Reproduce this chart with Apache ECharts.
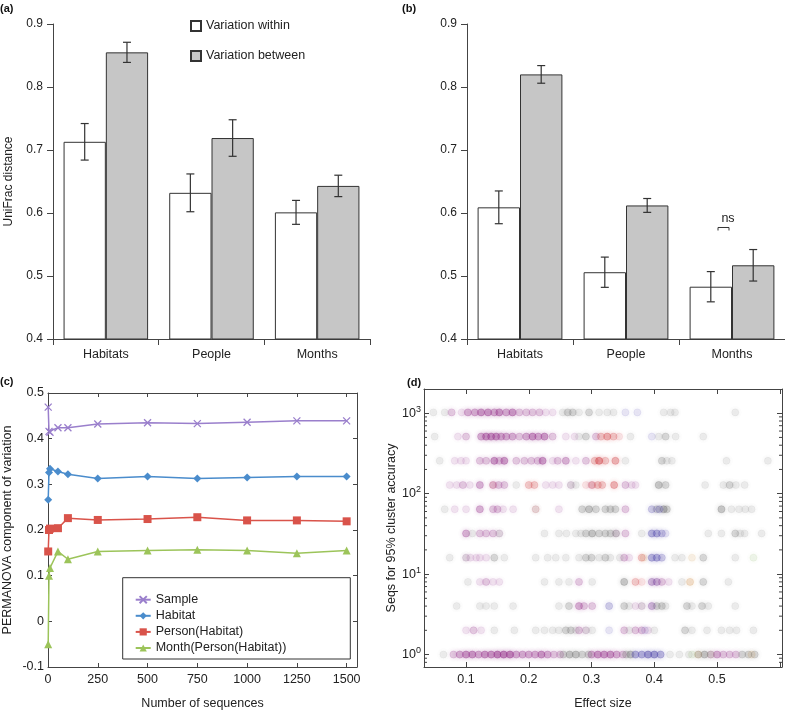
<!DOCTYPE html>
<html><head><meta charset="utf-8">
<script src="https://cdn.jsdelivr.net/npm/echarts@6/dist/echarts.min.js"></script>
<style>html,body{margin:0;padding:0;background:#fff}#c{width:785px;height:711px}</style>
</head><body><div id="c"></div><script>
// ---------- panels (a) and (b): UniFrac distances ----------
const barCategories = ['Habitats', 'People', 'Months'];
const aWithinMean  = [0.713, 0.632, 0.601];
const aWithinErr   = [0.029, 0.030, 0.019];
const aBetweenMean = [0.855, 0.719, 0.643];
const aBetweenErr  = [0.016, 0.029, 0.017];
const bWithinMean  = [0.609, 0.506, 0.483];
const bWithinErr   = [0.026, 0.024, 0.024];
const bBetweenMean = [0.820, 0.612, 0.517];
const bBetweenErr  = [0.014, 0.011, 0.025];
const nsMark = [[2, 0.577]];

// ---------- panel (c): PERMANOVA components ----------
const seqCounts   = [1, 5, 10, 50, 100, 250, 500, 750, 1000, 1250, 1500];
const sampleComp  = [0.469, 0.416, 0.414, 0.424, 0.424, 0.432, 0.435, 0.433, 0.436, 0.439, 0.439];
const habitatComp = [0.266, 0.326, 0.334, 0.328, 0.322, 0.313, 0.317, 0.313, 0.315, 0.317, 0.317];
const personComp  = [0.153, 0.200, 0.203, 0.204, 0.226, 0.222, 0.224, 0.228, 0.221, 0.221, 0.219];
const monthComp   = [-0.050, 0.100, 0.117, 0.153, 0.136, 0.153, 0.155, 0.157, 0.155, 0.149, 0.155];

// ---------- panel (d): effect size vs sequences needed  [effect, seqs, overlapCount] ----------
const purplePts = [
 [0.077,1024,2],[0.093,1024,1],[0.103,1024,3],[0.114,1024,3],[0.124,1024,4],[0.135,1024,4],[0.145,1024,3],[0.153,1024,4],[0.164,1024,3],[0.174,1024,4],[0.185,1024,2],[0.196,1024,2],[0.206,1024,2],[0.217,1024,2],[0.227,1024,1],[0.238,1024,1],
 [0.087,512,1],[0.100,512,2],[0.124,512,3],[0.132,512,4],[0.140,512,4],[0.148,512,4],[0.156,512,3],[0.164,512,3],[0.174,512,3],[0.185,512,2],[0.196,512,3],[0.206,512,4],[0.215,512,3],[0.225,512,4],[0.238,512,2],[0.259,512,1],[0.273,512,1],[0.307,512,2],
 [0.082,256,1],[0.092,256,1],[0.100,256,1],[0.122,256,2],[0.132,256,2],[0.145,256,4],[0.153,256,2],[0.161,256,4],[0.180,256,2],[0.193,256,2],[0.204,256,2],[0.214,256,2],[0.222,256,4],[0.238,256,1],[0.246,256,2],[0.259,256,3],[0.275,256,1],[0.291,256,2],
 [0.074,128,1],[0.085,128,1],[0.095,128,2],[0.106,128,1],[0.122,128,3],[0.143,128,2],[0.152,128,2],[0.161,128,2],[0.227,128,1],[0.238,128,1],[0.248,128,1],[0.267,128,1],[0.300,128,1],[0.354,128,2],[0.364,128,1],[0.370,128,1],
 [0.082,64,1],[0.100,64,1],[0.122,64,3],[0.143,64,2],[0.150,64,2],[0.159,64,1],[0.175,64,1],[0.248,64,1],[0.354,64,2],
 [0.100,32,3],[0.122,32,2],[0.132,32,2],[0.143,32,2],[0.153,32,1],[0.339,32,1],[0.354,32,2],
 [0.100,16,1],[0.107,16,1],[0.116,16,1],[0.122,16,1],[0.132,16,1],[0.352,16,2],[0.360,16,1],
 [0.122,8,1],[0.132,8,2],[0.143,8,1],[0.153,8,1],[0.280,8,2],[0.396,8,2],[0.404,8,2],[0.412,8,2],[0.423,8,1],
 [0.280,4,3],[0.288,4,2],[0.301,4,2],[0.370,4,1],[0.380,4,1],[0.396,4,2],
 [0.100,2,1],[0.112,2,2],[0.124,2,1],[0.280,2,2],[0.291,2,1],[0.352,2,2],[0.370,2,2],[0.380,2,2],[0.390,2,1],
 [0.080,1,2],[0.090,1,3],[0.100,1,4],[0.110,1,4],[0.120,1,3],[0.130,1,4],[0.140,1,4],[0.150,1,5],[0.160,1,5],[0.170,1,5],[0.180,1,3],[0.190,1,3],[0.200,1,3],[0.210,1,3],[0.220,1,4],[0.230,1,3],[0.240,1,2],[0.250,1,2],[0.300,1,3],[0.310,1,4],[0.320,1,4],[0.330,1,4],[0.340,1,3],[0.350,1,2],[0.490,1,2],[0.500,1,3],[0.510,1,2],[0.520,1,2],[0.530,1,2]
];
const greyPts = [
 [0.048,1024,1],[0.066,1024,1],[0.254,1024,1],[0.262,1024,2],[0.270,1024,2],[0.280,1024,1],[0.296,1024,2],[0.312,1024,1],[0.325,1024,1],[0.335,1024,1],[0.415,1024,1],[0.426,1024,1],[0.433,1024,1],[0.529,1024,1],
 [0.050,512,1],[0.280,512,1],[0.291,512,2],[0.362,512,1],[0.407,512,1],[0.418,512,2],[0.434,512,1],[0.478,512,1],
 [0.058,256,1],[0.354,256,1],[0.412,256,2],[0.420,256,1],[0.428,256,1],[0.515,256,1],[0.581,256,1],
 [0.180,128,1],[0.267,128,1],[0.275,128,1],[0.407,128,3],[0.418,128,2],[0.481,128,1],[0.510,128,1],[0.520,128,2],[0.530,128,1],[0.544,128,1],
 [0.066,64,1],[0.211,64,1],[0.285,64,2],[0.296,64,3],[0.307,64,2],[0.322,64,2],[0.330,64,2],[0.338,64,2],[0.404,64,2],[0.415,64,3],[0.420,64,2],[0.507,64,3],[0.523,64,1],[0.535,64,1],[0.545,64,1],[0.555,64,1],
 [0.110,32,1],[0.153,32,1],[0.225,32,1],[0.248,32,1],[0.260,32,1],[0.275,32,1],[0.283,32,1],[0.291,32,2],[0.301,32,3],[0.312,32,2],[0.322,32,2],[0.330,32,2],[0.339,32,2],[0.380,32,1],[0.486,32,1],[0.507,32,1],[0.529,32,2],[0.537,32,1],[0.544,32,1],[0.571,32,1],
 [0.074,16,1],[0.100,16,1],[0.145,16,2],[0.161,16,1],[0.211,16,1],[0.230,16,1],[0.243,16,1],[0.259,16,1],[0.280,16,1],[0.291,16,2],[0.300,16,2],[0.312,16,1],[0.322,16,2],[0.330,16,1],[0.345,16,1],[0.433,16,1],[0.444,16,1],[0.478,16,2],[0.529,16,1],
 [0.103,8,1],[0.225,8,1],[0.248,8,1],[0.264,8,1],[0.301,8,1],[0.352,8,3],[0.444,8,1],[0.478,8,2],[0.518,8,1],
 [0.085,4,1],[0.122,4,1],[0.132,4,1],[0.145,4,1],[0.175,4,1],[0.248,4,1],[0.264,4,2],[0.352,4,2],[0.360,4,1],[0.380,4,1],[0.404,4,2],[0.412,4,2],[0.418,4,1],[0.452,4,2],[0.460,4,1],[0.476,4,2],[0.486,4,1],[0.529,4,1],
 [0.145,2,1],[0.177,2,1],[0.211,2,1],[0.225,2,1],[0.238,2,1],[0.248,2,1],[0.259,2,2],[0.267,2,2],[0.275,2,1],[0.291,2,1],[0.301,2,1],[0.360,2,1],[0.400,2,1],[0.449,2,2],[0.460,2,1],[0.484,2,1],[0.507,2,1],[0.520,2,1],[0.531,2,1],[0.558,2,1],
 [0.064,1,1],[0.255,1,2],[0.265,1,3],[0.275,1,3],[0.285,1,2],[0.295,1,2],[0.355,1,2],[0.362,1,3],[0.425,1,1],[0.440,1,1],[0.455,1,1],[0.470,1,2],[0.480,1,3],[0.540,1,2],[0.550,1,2],[0.560,1,2]
];
const redPts = [
 [0.315,512,2],[0.325,512,3],[0.335,512,2],[0.344,512,1],
 [0.305,256,2],[0.312,256,4],[0.322,256,2],[0.338,256,3],
 [0.143,128,1],[0.200,128,2],[0.209,128,2],[0.291,128,1],[0.301,128,2],[0.310,128,2],[0.317,128,2],[0.336,128,3],
 [0.211,64,1],[0.380,16,2],[0.370,8,2],[0.380,8,1]
];
const bluePts = [
 [0.354,1024,1],[0.373,1024,1],[0.396,512,1],
 [0.396,64,2],[0.408,64,2],
 [0.396,32,3],[0.404,32,3],[0.412,32,2],[0.418,32,1],
 [0.396,16,3],[0.404,16,3],[0.412,16,2],
 [0.396,8,1],[0.404,8,1],[0.328,4,2],[0.396,4,1],[0.328,2,1],[0.385,2,1],
 [0.370,1,3],[0.380,1,3],[0.390,1,4],[0.400,1,4],[0.410,1,3]
];
const orangePts = [[0.383,16,1],[0.460,16,1],[0.457,8,2],[0.470,1,1],[0.555,1,1]];
const greenPts  = [[0.558,16,1],[0.460,1,1],[0.490,1,1]];
const logMinorTicks = [0.8,0.9,2,3,4,5,6,7,8,9,20,30,40,50,60,70,80,90,200,300,400,500,600,700,800,900];

const FONT = 'Liberation Sans, Arial, Helvetica, sans-serif';
const TXT = '#222';
const AX = '#444';

function errData(mean, err) { return mean.map((m, i) => [i, m - err[i], m + err[i]]); }
function errSeries(xi, yi, mean, err, side) {
  return {
    type: 'custom', xAxisIndex: xi, yAxisIndex: yi, z: 5, silent: true,
    encode: { x: 0, y: [1, 2] }, data: errData(mean, err),
    renderItem: function (params, api) {
      const band = api.size([1, 0])[0];
      const off = side * band * 0.8 / 4;
      const lo = api.coord([api.value(0), api.value(1)]);
      const hi = api.coord([api.value(0), api.value(2)]);
      const x = lo[0] + off, cap = 4;
      const st = { stroke: '#333', lineWidth: 1.2 };
      return { type: 'group', children: [
        { type: 'line', shape: { x1: x, y1: lo[1], x2: x, y2: hi[1] }, style: st },
        { type: 'line', shape: { x1: x - cap, y1: lo[1], x2: x + cap, y2: lo[1] }, style: st },
        { type: 'line', shape: { x1: x - cap, y1: hi[1], x2: x + cap, y2: hi[1] }, style: st }
      ]};
    }
  };
}
function barSeries(name, xi, yi, data, fill) {
  return { name: name, type: 'bar', xAxisIndex: xi, yAxisIndex: yi, data: data,
    barGap: '0%', barCategoryGap: '20%',
    itemStyle: { color: fill, borderColor: '#333', borderWidth: 1 }, silent: true };
}
function catAxis(gi) {
  return { type: 'category', gridIndex: gi, data: barCategories,
    axisLine: { onZero: false, lineStyle: { color: AX, width: 1 } },
    axisTick: { show: true, length: 6, lineStyle: { color: AX } },
    axisLabel: { color: TXT, fontSize: 12.5, fontFamily: FONT, margin: 9 } };
}
function barValAxis(gi, name) {
  return { type: 'value', gridIndex: gi, min: 0.4, max: 0.9, interval: 0.1,
    name: name, nameLocation: 'middle', nameGap: 38,
    nameTextStyle: { color: TXT, fontSize: 12, fontFamily: FONT },
    splitLine: { show: false },
    axisLine: { show: true, onZero: false, lineStyle: { color: AX } },
    axisTick: { show: true, length: 6, lineStyle: { color: AX } },
    axisLabel: { color: TXT, fontSize: 12, fontFamily: FONT, margin: 10 } };
}
function scat(pts, rgb) {
  return { type: 'scatter', xAxisIndex: 4, yAxisIndex: 4, data: pts, symbol: 'circle', symbolSize: 7,
    silent: true, encode: { x: 0, y: 1 },
    itemStyle: { color: 'rgba(' + rgb + ',0.6)', borderColor: 'rgb(' + rgb + ')', borderWidth: 0.6,
      shadowBlur: 4, shadowColor: 'rgba(' + rgb + ',0.8)' } };
}
function lineSeries(name, vals, color, symbol, size, extra) {
  return Object.assign({ name: name, type: 'line', xAxisIndex: 2, yAxisIndex: 2,
    data: seqCounts.map((s, i) => [s, vals[i]]), symbol: symbol, symbolSize: size,
    lineStyle: { color: color, width: 1.5 }, itemStyle: { color: color }, silent: true }, extra || {});
}
function inTick(len) { return { show: true, inside: true, length: len, lineStyle: { color: AX } }; }
function axLine() { return { show: true, onZero: false, lineStyle: { color: AX } }; }

const series = [
  barSeries('Variation within', 0, 0, aWithinMean, '#ffffff'),
  barSeries('Variation between', 0, 0, aBetweenMean, '#c6c6c6'),
  errSeries(0, 0, aWithinMean, aWithinErr, -1),
  errSeries(0, 0, aBetweenMean, aBetweenErr, 1),
  barSeries('Variation within', 1, 1, bWithinMean, '#ffffff'),
  barSeries('Variation between', 1, 1, bBetweenMean, '#c6c6c6'),
  errSeries(1, 1, bWithinMean, bWithinErr, -1),
  errSeries(1, 1, bBetweenMean, bBetweenErr, 1),
  { type: 'custom', xAxisIndex: 1, yAxisIndex: 1, z: 6, silent: true, data: nsMark, encode: { x: 0, y: 1 },
    renderItem: function (params, api) {
      const p = api.coord([api.value(0), api.value(1)]);
      const st = { stroke: '#333', lineWidth: 1, fill: null };
      return { type: 'group', children: [
        { type: 'polyline', shape: { points: [[p[0] - 14, p[1] + 3], [p[0] - 14, p[1]], [p[0] - 3, p[1]], [p[0] - 3, p[1] + 3]] }, style: st },
        { type: 'text', x: p[0] - 4, y: p[1] - 9, style: { text: 'ns', fill: TXT, fontSize: 12.5, fontFamily: FONT, align: 'center', verticalAlign: 'middle' } }
      ]};
    } },
  lineSeries('Sample', sampleComp, '#9a7fcc', 'path://M0,0L10,10M10,0L0,10', 7,
    { itemStyle: { color: 'rgba(0,0,0,0)', borderColor: '#9a7fcc', borderWidth: 1.3 } }),
  lineSeries('Habitat', habitatComp, '#4a8ccc', 'diamond', 8),
  lineSeries('Person(Habitat)', personComp, '#d9534a', 'rect', 8),
  lineSeries('Month(Person(Habitat))', monthComp, '#9cc45a', 'triangle', 8),
  scat(purplePts, '150,50,140'),
  scat(greyPts, '105,105,105'),
  scat(redPts, '205,50,55'),
  scat(bluePts, '70,60,165'),
  scat(orangePts, '200,130,50'),
  scat(greenPts, '120,165,80'),
  { type: 'custom', xAxisIndex: 4, yAxisIndex: 4, silent: true, z: 3,
    data: logMinorTicks.map(v => [0.3, v]), encode: { x: 0, y: 1 },
    renderItem: function (params, api) {
      const cs = params.coordSys;
      const y = api.coord([api.value(0), api.value(1)])[1];
      const st = { stroke: AX, lineWidth: 1 };
      return { type: 'group', children: [
        { type: 'line', shape: { x1: cs.x, y1: y, x2: cs.x + 3, y2: y }, style: st },
        { type: 'line', shape: { x1: cs.x + cs.width - 3, y1: y, x2: cs.x + cs.width, y2: y }, style: st }
      ]};
    } }
];
const scatterIdx = [13, 14, 15, 16, 17, 18];

function logLabel(v) {
  const l = Math.log10(v), e = Math.round(l);
  if (Math.abs(l - e) > 1e-6) return '';
  return '10{s|' + e + '}';
}
function effLabel(v) {
  const r = Math.round(v * 10) / 10;
  if (Math.abs(v - r) > 1e-6 || r < 0.1 || r > 0.5) return '';
  return r.toFixed(1);
}

const option = {
  backgroundColor: '#fff',
  animation: false,
  textStyle: { fontFamily: FONT },
  grid: [
    { left: 53, top: 24, width: 317, height: 315 },
    { left: 467, top: 24, width: 318, height: 315 },
    { left: 48, top: 393, width: 309, height: 274 },
    { left: 424, top: 389, width: 360, height: 278 }
  ],
  xAxis: [
    catAxis(0),
    catAxis(1),
    { type: 'value', gridIndex: 2, min: 0, max: 1552, interval: 250,
      name: 'Number of sequences', nameLocation: 'middle', nameGap: 30,
      nameTextStyle: { color: TXT, fontSize: 12.5, fontFamily: FONT },
      splitLine: { show: false }, axisLine: axLine(), axisTick: inTick(4),
      axisLabel: { color: TXT, fontSize: 12.5, fontFamily: FONT, margin: 6,
        formatter: v => (v % 250 === 0 ? String(v) : '') } },
    { type: 'value', gridIndex: 2, position: 'top', min: 0, max: 1552, interval: 250,
      splitLine: { show: false }, axisLine: axLine(), axisTick: inTick(4), axisLabel: { show: false } },
    { type: 'value', gridIndex: 3, min: 0.033, max: 0.6035, splitNumber: 6,
      name: 'Effect size', nameLocation: 'middle', nameGap: 30,
      nameTextStyle: { color: TXT, fontSize: 12.5, fontFamily: FONT },
      splitLine: { show: false }, axisLine: axLine(), axisTick: inTick(5),
      axisLabel: { color: TXT, fontSize: 12.5, fontFamily: FONT, margin: 6, formatter: effLabel, hideOverlap: false } },
    { type: 'value', gridIndex: 3, position: 'top', min: 0.033, max: 0.6035, splitNumber: 6,
      splitLine: { show: false }, axisLine: axLine(), axisTick: inTick(5), axisLabel: { show: false } }
  ],
  yAxis: [
    barValAxis(0, 'UniFrac distance'),
    barValAxis(1, ''),
    { type: 'value', gridIndex: 2, min: -0.1, max: 0.5, interval: 0.1,
      name: 'PERMANOVA component of variation', nameLocation: 'middle', nameGap: 34,
      nameTextStyle: { color: TXT, fontSize: 12.5, fontFamily: FONT },
      splitLine: { show: false }, axisLine: axLine(), axisTick: inTick(4),
      axisLabel: { color: TXT, fontSize: 12.5, fontFamily: FONT, margin: 4 } },
    { type: 'value', gridIndex: 2, position: 'right', min: -0.1, max: 0.5, interval: 0.1,
      splitLine: { show: false }, axisLine: axLine(), axisTick: inTick(4), axisLabel: { show: false } },
    { type: 'log', logBase: 10, gridIndex: 3, min: 0.7, max: 2000,
      name: 'Seqs for 95% cluster accuracy', nameLocation: 'middle', nameGap: 19,
      nameTextStyle: { color: TXT, fontSize: 12.5, fontFamily: FONT },
      splitLine: { show: false }, axisLine: axLine(), axisTick: inTick(5),
      axisLabel: { color: TXT, fontSize: 12.5, fontFamily: FONT, margin: 3, formatter: logLabel,
        rich: { s: { fontSize: 9, fontFamily: FONT, color: TXT, padding: [0, 0, 8, 0] } } } },
    { type: 'log', logBase: 10, gridIndex: 3, position: 'right', min: 0.7, max: 2000,
      splitLine: { show: false }, axisLine: axLine(), axisTick: inTick(5), axisLabel: { show: false } }
  ],
  legend: [
    { data: ['Variation within', 'Variation between'], orient: 'vertical', left: 190, top: 19,
      padding: 0, itemGap: 16, itemWidth: 10, itemHeight: 10, icon: 'rect', selectedMode: false,
      textStyle: { color: TXT, fontSize: 12.5, fontFamily: FONT, lineHeight: 14 } },
    { data: ['Sample', 'Habitat', 'Person(Habitat)', 'Month(Person(Habitat))'], orient: 'vertical',
      left: 122.7, top: 577.7, padding: [15, 64, 4, 12], itemGap: 2.1, itemWidth: 15, itemHeight: 9,
      borderColor: '#333', borderWidth: 1, backgroundColor: '#fff', selectedMode: false,
      textStyle: { color: TXT, fontSize: 12.5, fontFamily: FONT, lineHeight: 14 } }
  ],
  visualMap: [
    { type: 'continuous', show: false, dimension: 2, min: 1, max: 5, seriesIndex: scatterIdx,
      inRange: { opacity: [0.14, 0.72] } }
  ],
  graphic: [
    { type: 'text', x: 0, y: 3, style: { text: '(a)', fill: '#111', fontSize: 11, fontWeight: 'bold', fontFamily: FONT } },
    { type: 'text', x: 402, y: 3, style: { text: '(b)', fill: '#111', fontSize: 11, fontWeight: 'bold', fontFamily: FONT } },
    { type: 'text', x: 0, y: 376, style: { text: '(c)', fill: '#111', fontSize: 11, fontWeight: 'bold', fontFamily: FONT } },
    { type: 'text', x: 407, y: 377, style: { text: '(d)', fill: '#111', fontSize: 11, fontWeight: 'bold', fontFamily: FONT } }
  ],
  series: series
};
const chart = echarts.init(document.getElementById('c'), null, { renderer: 'canvas' });
chart.setOption(option);
</script></body></html>
